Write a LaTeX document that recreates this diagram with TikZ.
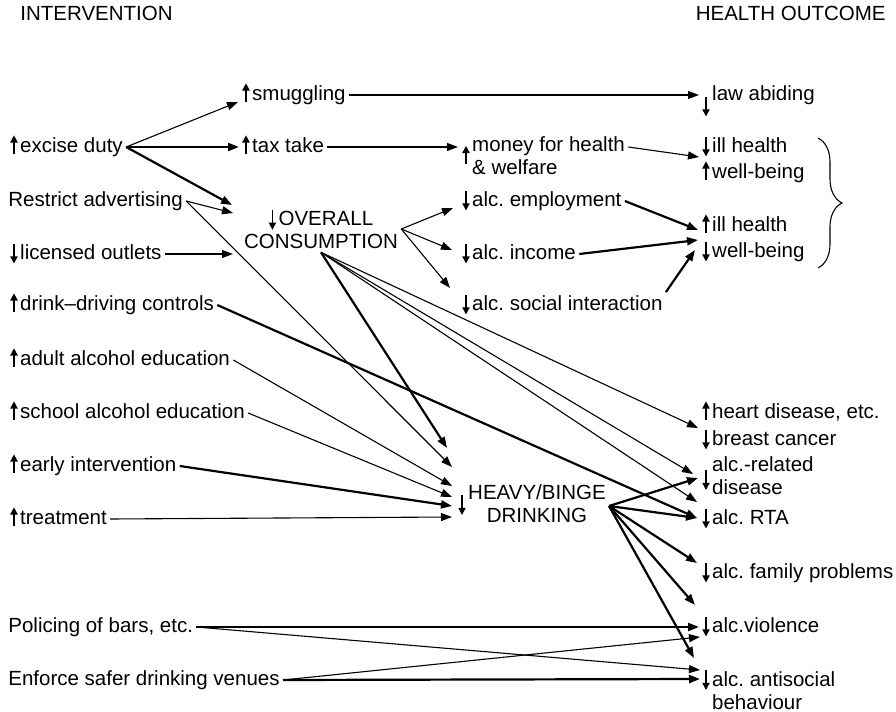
\documentclass[tikz,border=0pt]{standalone}
\usepackage{fontspec}
\setmainfont{Liberation Sans}
\usetikzlibrary{arrows.meta,calc,decorations.pathreplacing}
\frenchspacing
% small up / down arrows set in front of a factor
\newcommand\upar{\tikz[baseline=0pt]\draw[line width=.7pt,-{Triangle[length=3.6pt,width=3.6pt]}] (0pt,-.5pt) -- (0pt,8.6pt);\kern1.3pt}
\newcommand\dnar{\tikz[baseline=0pt]\draw[line width=.7pt,-{Triangle[length=3.6pt,width=3.6pt]}] (0pt,8pt) -- (0pt,-2pt);\kern1.3pt}
\tikzset{
  factor/.style={anchor=west,inner sep=1.5pt,text height=.75em,text depth=.2em},
  factor pair/.style={anchor=west,inner sep=1.5pt},
  link/.style={-{Triangle[length=5.5pt,width=4pt]},line width=.55pt},
  strong link/.style={link,line width=1.1pt},
}

\begin{document}
\begin{tikzpicture}[x=0.5pt,y=-0.5pt, every node/.style={font=\fontsize{10.25}{11.5}\selectfont}]
  \useasboundingbox (0,0) rectangle (896,712);
  % headings
  \node[factor] (hint) at (17,15) {INTERVENTION};
  \node[factor,anchor=east] (hout) at (889,15) {HEALTH OUTCOME};
  % interventions
  \node[factor] (excise) at (7,147) {\upar excise duty};
  \node[factor] (advert) at (5,201) {Restrict advertising};
  \node[factor] (licensed) at (7,254) {\dnar licensed outlets};
  \node[factor] (drink) at (7,305) {\upar drink--driving controls};
  \node[factor] (adult) at (7,360) {\upar adult alcohol education};
  \node[factor] (school) at (7,413) {\upar school alcohol education};
  \node[factor] (early) at (7,466) {\upar early intervention};
  \node[factor] (treat) at (7,519) {\upar treatment};
  \node[factor] (police) at (5,627) {Policing of bars, etc.};
  \node[factor] (enforce) at (5,680) {Enforce safer drinking venues};
  % intermediate effects
  \node[factor] (smuggling) at (239,95) {\upar smuggling};
  \node[factor] (taxtake) at (239,147) {\upar tax take};
  \node[align=center,inner sep=1.5pt] (overall) at (321,229) {\dnar OVERALL\\CONSUMPTION};
  \node[factor pair] (money) at (459,158) {\upar\begin{tabular}{@{}l@{}}money for health\\\& welfare\end{tabular}};
  \node[factor] (employ) at (459,201) {\dnar alc. employment};
  \node[factor] (income) at (459,254) {\dnar alc. income};
  \node[factor] (social) at (459,305) {\dnar alc. social interaction};
  \node[factor pair] (heavy) at (455,506) {\dnar\begin{tabular}{@{}c@{}}HEAVY/BINGE\\DRINKING\end{tabular}};
  % outcomes
  \node[factor] (law) at (699,95) {\raisebox{-6pt}{\dnar}law abiding};
  \node[factor] (ill1) at (699,147) {\dnar ill health};
  \node[factor] (well1) at (699,173) {\upar well-being};
  \node[factor] (ill2) at (699,226) {\upar ill health};
  \node[factor] (well2) at (699,252) {\dnar well-being};
  \node[factor] (heart) at (699,413) {\upar heart disease, etc.};
  \node[factor] (breast) at (699,440) {\dnar breast cancer};
  \node[factor pair] (related) at (699,478) {\raisebox{-1.5pt}{\dnar}\begin{tabular}{@{}l@{}}alc.-related\\disease\end{tabular}};
  \node[factor] (rta) at (699,519) {\dnar alc. RTA};
  \node[factor] (family) at (699,573) {\dnar alc. family problems};
  \node[factor] (violence) at (699,627) {\dnar alc.violence};
  \node[inner sep=1.5pt,anchor=base west] (antisocial) at (699,686) {\dnar\begin{tabular}[t]{@{}l@{}}alc. antisocial\\behaviour\end{tabular}};
  \draw[decorate,decoration={brace,amplitude=12pt},line width=.55pt] (818,138) -- (818,268);
  % links
  \draw[link] (excise.east) -- ($(smuggling.west)+(-1,7)$);
  \draw[strong link] (excise.east) -- (taxtake.west);
  \draw[strong link] (excise.east) -- ($(overall)+(-89,-24)$);
  \draw[link] (advert.east) -- ($(overall)+(-88,-16)$);
  \draw[link] (advert.east) -- ($(heavy.west)+(-3,-39)$);
  \draw[link] (licensed.east) -- ($(overall)+(-88,25)$);
  \draw[link] (smuggling.east) -- (law.west);
  \draw[link] (taxtake.east) -- ($(money.west)+(-1,-11)$);
  \draw[link] ($(money.east)+(0,-11)$) -- ($(ill1.west)+(0,10)$);
  \draw[link] (overall.east) -- ($(employ.west)+(-6,7)$);
  \draw[link] (overall.east) -- ($(income.west)+(-7,-4)$);
  \draw[link] (overall.east) -- ($(social.west)+(-9,-17)$);
  \draw[strong link] (employ.east) -- ($(ill2.west)+(-1,4)$);
  \draw[strong link] (income.east) -- ($(ill2.west)+(-1,14)$);
  \draw[strong link] (social.north east) -- ($(well2.west)+(-4,-2)$);
  \draw[strong link] (overall.south) -- ($(heavy.west)+(-8,-58)$);
  \draw[link] (overall.south) -- ($(breast.west)+(-1,-12)$);
  \draw[link] (overall.south) -- ($(related.west)+(-6,-4)$);
  \draw[link] (overall.south) -- ($(rta.west)+(-2,-17)$);
  \draw[strong link] (drink.east) -- ($(rta.west)+(-2,-1)$);
  \draw[link] (adult.east) -- ($(heavy.west)+(-3,-20)$);
  \draw[link] (school.east) -- ($(heavy.west)+(-3,-9)$);
  \draw[strong link] (early.east) -- ($(heavy.west)+(-3,0)$);
  \draw[link] (treat.east) -- ($(heavy.west)+(-3,11)$);
  \draw[strong link] (heavy.east) -- ($(related.west)+(-1,0)$);
  \draw[strong link] (heavy.east) -- ($(rta.west)+(-2,-1)$);
  \draw[strong link] (heavy.east) -- ($(family.west)+(-2,-10)$);
  \draw[strong link] (heavy.east) -- ($(violence.west)+(-4,-22)$);
  \draw[strong link] (heavy.east) -- ($(antisocial.base west)+(-5,-28)$);
  \draw[strong link] (police.east) -- (violence.west);
  \draw[link] (police.east) -- ($(antisocial.base west)+(1,-16)$);
  \draw[link] (enforce.east) -- ($(violence.west)+(1,10)$);
  \draw[strong link] (enforce.east) -- ($(antisocial.base west)+(1,-7)$);
\end{tikzpicture}
\end{document}
